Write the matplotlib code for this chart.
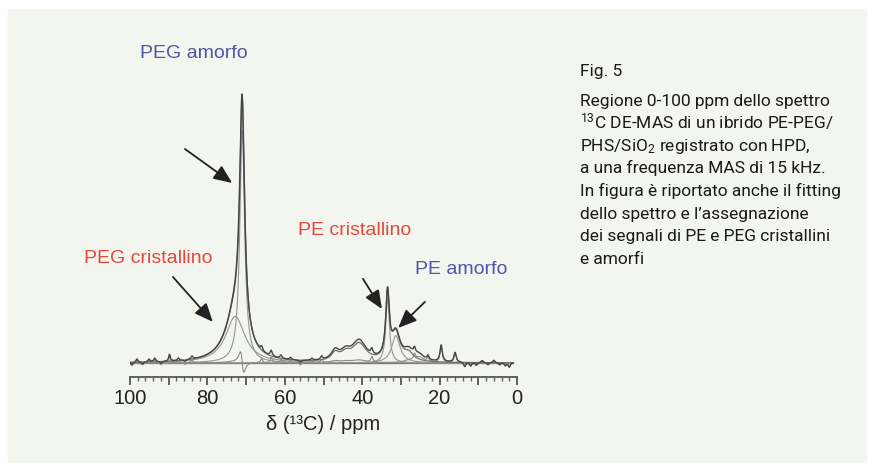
import numpy as np
import matplotlib
matplotlib.use("Agg")
import matplotlib.pyplot as plt
from matplotlib import font_manager
from matplotlib.patches import Rectangle
from matplotlib.ticker import MultipleLocator

# experimental spectrum, read as Lorentzian lines: position (ppm), height, half width
exp_pos = [71.05, 72.8, 33.45, 31.3, 40.8, 47.0, 44.3, 28.0, 25.3, 19.6, 16.0, 89.8]
exp_height = [85.0, 17.5, 24.0, 10.0, 7.5, 3.5, 3.0, 3.5, 2.0, 6.0, 3.5, 2.5]
exp_hwhm = [0.75, 3.0, 0.55, 1.3, 2.2, 1.2, 1.5, 1.5, 1.5, 0.35, 0.35, 0.25]

# small wiggles of the measured trace
ripple_pos = [99.5, 98.2, 96.8, 95.1, 93.6, 92.0, 87.5, 85.8, 84.0, 66.0, 63.5, 61.0,
              58.5, 56.0, 53.0, 50.5, 37.5, 26.5, 23.0, 13.5, 12.0, 10.5, 9.0, 7.5,
              6.0, 4.5, 3.0, 2.0]
ripple_amp = [-1.0, 1.2, -0.8, 1.0, 1.3, -0.7, 0.9, -0.6, 1.1, 1.5, 2.0, 1.2,
              0.8, -0.8, 0.7, 1.2, 2.0, 2.0, 1.5, -1.5, -1.2, -1.0, 0.8, -0.8,
              0.9, -0.7, -1.0, -1.5]

# fitted lines: PEG amorfo, PEG cristallino, PE cristallino, PE amorfo, then broad bands
fit_pos = [71.0, 72.8, 33.45, 31.3, 40.8, 47.0, 44.3, 28.0]
fit_height = [85.0, 17.0, 24.0, 10.0, 6.5, 2.8, 2.5, 2.8]
fit_hwhm = [0.75, 3.0, 0.55, 1.3, 2.2, 1.2, 1.5, 1.5]
n_components = 4

xticks_major = [100, 80, 60, 40, 20, 0]

caption = [
    "Regione 0-100 ppm dello spettro",
    r"$^{13}$C DE-MAS di un ibrido PE-PEG/",
    r"PHS/SiO$_2$ registrato con HPD,",
    "a una frequenza MAS di 15 kHz.",
    "In figura è riportato anche il fitting",
    "dello spettro e l\u2019assegnazione",
    "dei segnali di PE e PEG cristallini",
    "e amorfi",
]


def lorentz(x, p, h, w):
    return h / (1 + ((x - p) / w) ** 2)


def pick_font(names):
    for n in names:
        try:
            font_manager.findfont(n, fallback_to_default=False)
            return n
        except Exception:
            pass
    return "DejaVu Sans"


ppm = np.linspace(100.5, 1.0, 3000)
spec = np.zeros_like(ppm)
for p, h, w in zip(exp_pos, exp_height, exp_hwhm):
    spec += lorentz(ppm, p, h, w)
for p, a in zip(ripple_pos, ripple_amp):
    spec += lorentz(ppm, p, a, 0.3)

fit = np.zeros_like(ppm)
comps = []
for p, h, w in zip(fit_pos, fit_height, fit_hwhm):
    c = lorentz(ppm, p, h, w)
    fit += c
    comps.append(c)
resid = spec - fit

W, H = 873, 471
fig = plt.figure(figsize=(W / 100, H / 100), dpi=100, facecolor="white")
fig.patches.append(Rectangle((8 / W, 1 - 462 / H), 858 / W, 453 / H,
                             transform=fig.transFigure, color="#f3f5ef", zorder=-5))

ax = fig.add_axes([130 / W, 1 - 377 / H, 387 / W, 288 / H])
ax.set_facecolor("none")
ax.set_xlim(100, 0)
ax.set_ylim(-5.11, 100)

ax.axhline(0, xmin=0.0, xmax=0.99, color="#555555", lw=0.9)
for c in comps[:n_components]:
    ax.plot(ppm, c, color="#959595", lw=0.8)
ax.plot(ppm, resid, color="#8a8a8a", lw=0.8)
ax.plot(ppm, fit, color="#707070", lw=0.9)
ax.plot(ppm, spec, color="#454545", lw=1.0)

tick_font = "Liberation Sans"
for s in ["top", "left", "right"]:
    ax.spines[s].set_visible(False)
ax.spines["bottom"].set_color("#555555")
ax.spines["bottom"].set_linewidth(1.3)
ax.set_yticks([])
ax.xaxis.set_minor_locator(MultipleLocator(2))
ax.set_xticks(np.arange(0, 101, 10))
ax.set_xticklabels([str(t) if t in xticks_major else "" for t in np.arange(0, 101, 10)],
                   family=tick_font)
ax.tick_params(axis="x", which="major", direction="out", length=6, width=1.3,
               color="#555555", labelsize=14.5, labelcolor="#222222", pad=3)
ax.tick_params(axis="x", which="minor", direction="out", length=3, width=1.0,
               color="#666666")
ax.set_xlabel("δ (¹³C) / ppm", fontsize=14.5, color="#222222", labelpad=5,
              family=tick_font)

blue = "#4f55a8"
red = "#e5483d"
lab = dict(fontsize=14, ha="center", va="center", family="Liberation Sans")
ax.text(83.5, 112.8, "PEG amorfo", color=blue, **lab)
ax.text(95.2, 38.3, "PEG cristallino", color=red, **lab)
ax.text(41.9, 48.5, "PE cristallino", color=red, **lab)
ax.text(14.3, 34.2, "PE amorfo", color=blue, **lab)

arrows = [((85.8, 78.1), (73.6, 65.7)),
          ((88.9, 31.4), (78.6, 15.0)),
          ((39.8, 30.7), (34.9, 19.7)),
          ((23.8, 22.3), (30.7, 12.8))]
for tail, head in arrows:
    ax.annotate("", xy=head, xytext=tail, annotation_clip=False,
                arrowprops=dict(arrowstyle="-|>,head_length=0.7,head_width=0.3",
                                color="#222222", lw=1.3, mutation_scale=16,
                                shrinkA=0, shrinkB=0))

cap_family = pick_font(["Liberation Sans Narrow", "Roboto"])
plt.rcParams["mathtext.fontset"] = "custom"
plt.rcParams["mathtext.rm"] = cap_family
plt.rcParams["mathtext.it"] = cap_family
cap_font = dict(family=cap_family, color="#1a1a1a", ha="left", va="baseline")

# size the caption so the longest line spans ~262 px like the reference
probe = fig.text(580 / W, 0.5, caption[4], fontsize=13, **cap_font)
fig.canvas.draw()
wpx = probe.get_window_extent().width
probe.remove()
fs = 13 * 262 / wpx

fig.text(580 / W, 1 - 76 / H, "Fig. 5", fontsize=fs, **cap_font)
for i, line in enumerate(caption):
    fig.text(580 / W, 1 - (106 + 22.5 * i) / H, line, fontsize=fs, **cap_font)

fig.savefig("out.png", dpi=100, facecolor="white")
